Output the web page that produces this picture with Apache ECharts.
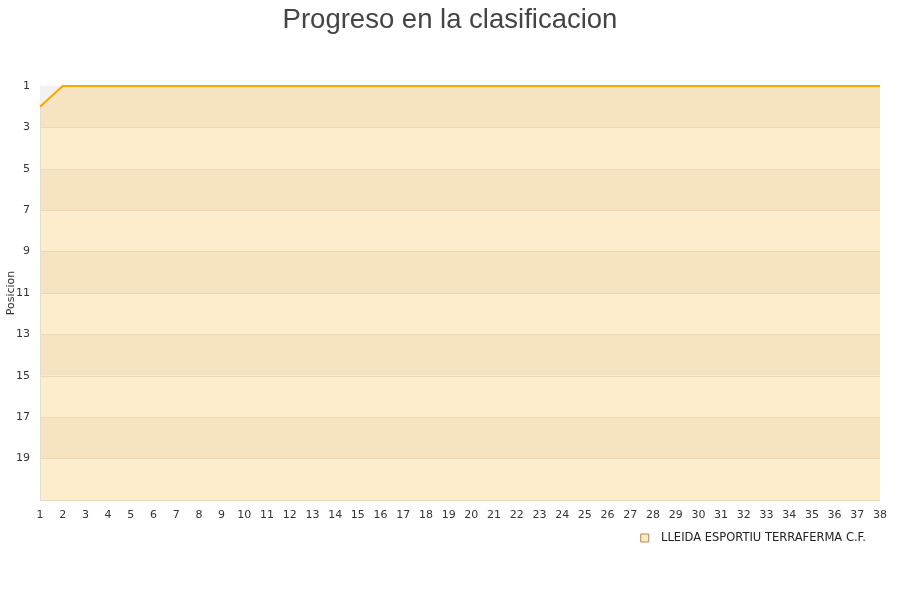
<!DOCTYPE html>
<html>
<head>
<meta charset="utf-8">
<script src="https://cdn.jsdelivr.net/npm/echarts@6/dist/echarts.min.js"></script>
<style>
html, body { margin: 0; padding: 0; background: #fff; }
#chart { width: 900px; height: 600px; }
</style>
</head>
<body>
<div id="chart"></div>
<script>
// jornadas 1..38
var jornadas = [];
for (var j = 1; j <= 38; j++) jornadas.push(String(j));

var teamName = 'LLEIDA ESPORTIU TERRAFERMA C.F.';
// posicion por jornada
var posiciones = [2, 1, 1, 1, 1, 1, 1, 1, 1, 1, 1, 1, 1, 1, 1, 1, 1, 1, 1,
    1, 1, 1, 1, 1, 1, 1, 1, 1, 1, 1, 1, 1, 1, 1, 1, 1, 1, 1];

// relleno gris entre el primer puesto y la posicion
var primero = posiciones.map(function () { return 1; });
var distancia = posiciones.map(function (p) { return p - 1; });

var myChart = echarts.init(document.getElementById('chart'));

var option = {
    animation: false,
    title: {
        text: 'Progreso en la clasificacion',
        left: 'center',
        top: 1,
        textStyle: {
            fontFamily: 'Liberation Sans',
            fontSize: 27.5,
            fontWeight: 'normal',
            color: '#444'
        }
    },
    legend: {
        right: 29,
        top: 527,
        icon: 'rect',
        itemWidth: 8,
        itemHeight: 8,
        textStyle: { fontFamily: 'DejaVu Sans', fontSize: 11.5, color: '#222' },
        formatter: function (n) { return '  ' + n; },
        data: [{
            name: teamName,
            itemStyle: { color: '#fde9c4', borderColor: '#b08850', borderWidth: 1 }
        }]
    },
    grid: { left: 40, right: 20, top: 86, bottom: 100, outerBoundsMode: 'none', containLabel: false },
    xAxis: {
        type: 'category',
        data: jornadas,
        boundaryGap: false,
        axisLine: { show: false },
        axisTick: { show: false },
        axisLabel: {
            interval: 0,
            margin: 10,
            fontFamily: 'DejaVu Sans',
            fontSize: 11,
            color: '#333'
        },
        splitLine: { show: false }
    },
    yAxis: {
        type: 'value',
        inverse: true,
        min: 1,
        max: 21,
        interval: 2,
        name: 'Posicion',
        nameLocation: 'middle',
        nameGap: 23,
        nameMoveOverlap: false,
        nameTextStyle: { fontFamily: 'DejaVu Sans', fontSize: 11, color: '#333' },
        axisLine: { show: true, lineStyle: { color: '#dddddd' } },
        axisTick: { show: false },
        axisLabel: {
            fontFamily: 'DejaVu Sans',
            fontSize: 11,
            color: '#333',
            margin: 10,
            formatter: function (v) { return v === 21 ? '' : v; }
        },
        splitLine: { show: true, lineStyle: { color: '#ecd8b4' } },
        splitArea: {
            show: true,
            areaStyle: { color: ['#f6e3c2', '#feedcd'] }
        }
    },
    series: [{
        name: 'base',
        type: 'line',
        stack: 'pos',
        data: primero,
        symbol: 'none',
        silent: true,
        lineStyle: { width: 0, opacity: 0 }
    }, {
        name: teamName,
        type: 'line',
        stack: 'pos',
        data: distancia,
        symbol: 'none',
        lineStyle: { color: '#ffa500', width: 2 },
        itemStyle: { color: '#ffa500' },
        areaStyle: { color: '#f2f2f2', opacity: 1 }
    }]
};

myChart.setOption(option);
</script>
</body>
</html>
